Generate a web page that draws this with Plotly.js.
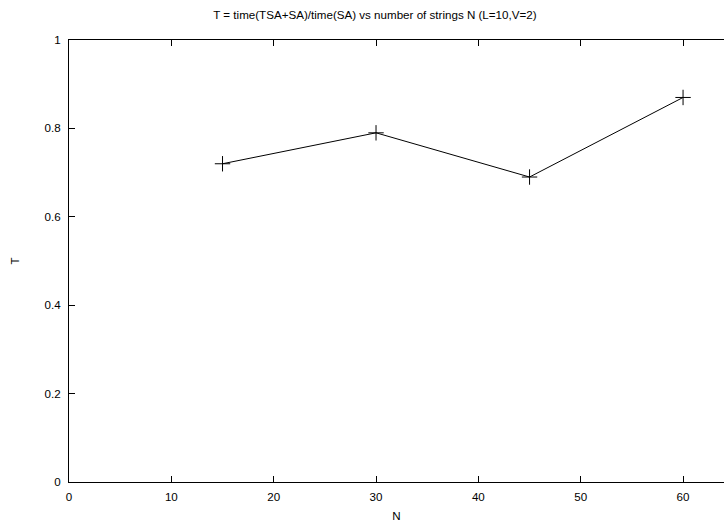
<!DOCTYPE html>
<html>
<head>
<meta charset="utf-8">
<script src="https://cdn.plot.ly/plotly-3.0.1.min.js"></script>
<style>html,body{margin:0;padding:0;background:#fff;}#chart{width:724px;height:522px;}</style>
</head>
<body>
<div id="chart"></div>
<script>
const N = [15, 30, 45, 60];
const T = [0.72, 0.79, 0.69, 0.87];
const xTicks = [0, 10, 20, 30, 40, 50, 60];
const yTicks = [0, 0.2, 0.4, 0.6, 0.8, 1];
const yTickText = ['0', '0.2', '0.4', '0.6', '0.8', '1'];
const titleText = 'T = time(TSA+SA)/time(SA) vs number of strings N (L=10,V=2)';

const font = {family: 'Liberation Sans, Arial, sans-serif', size: 11.6, color: '#000'};

Plotly.newPlot('chart', [{
  x: N, y: T, type: 'scatter', mode: 'lines+markers',
  line: {color: '#000', width: 1},
  marker: {symbol: 'cross-thin-open', size: 11, color: '#000', line: {color: '#000', width: 1}},
  showlegend: false
}], {
  width: 724, height: 522,
  margin: {l: 69, r: 0, t: 40, b: 40, pad: 0},
  paper_bgcolor: '#fff', plot_bgcolor: '#fff',
  font: font,
  title: {text: titleText, font: font, x: 0.467, xref: 'paper', xanchor: 'center', y: 0.971, yanchor: 'middle'},
  xaxis: {
    range: [0, 64], tickvals: xTicks, ticktext: xTicks.map(String),
    ticks: 'inside', ticklen: 6, tickcolor: '#000', tickwidth: 1,
    showline: true, linecolor: '#000', linewidth: 1, mirror: 'ticks',
    showgrid: false, zeroline: false, tickfont: font, ticklabelstandoff: 4,
    title: {text: 'N', font: font, standoff: 12}, automargin: false
  },
  yaxis: {
    range: [0, 1], tickvals: yTicks, ticktext: yTickText,
    ticks: 'inside', ticklen: 6, tickcolor: '#000', tickwidth: 1,
    showline: true, linecolor: '#000', linewidth: 1, mirror: false,
    showgrid: false, zeroline: false, tickfont: font, ticklabelstandoff: 5,
    title: {text: 'T', font: font, standoff: 22}, automargin: false
  }
}, {displayModeBar: false, staticPlot: true});
</script>
</body>
</html>
